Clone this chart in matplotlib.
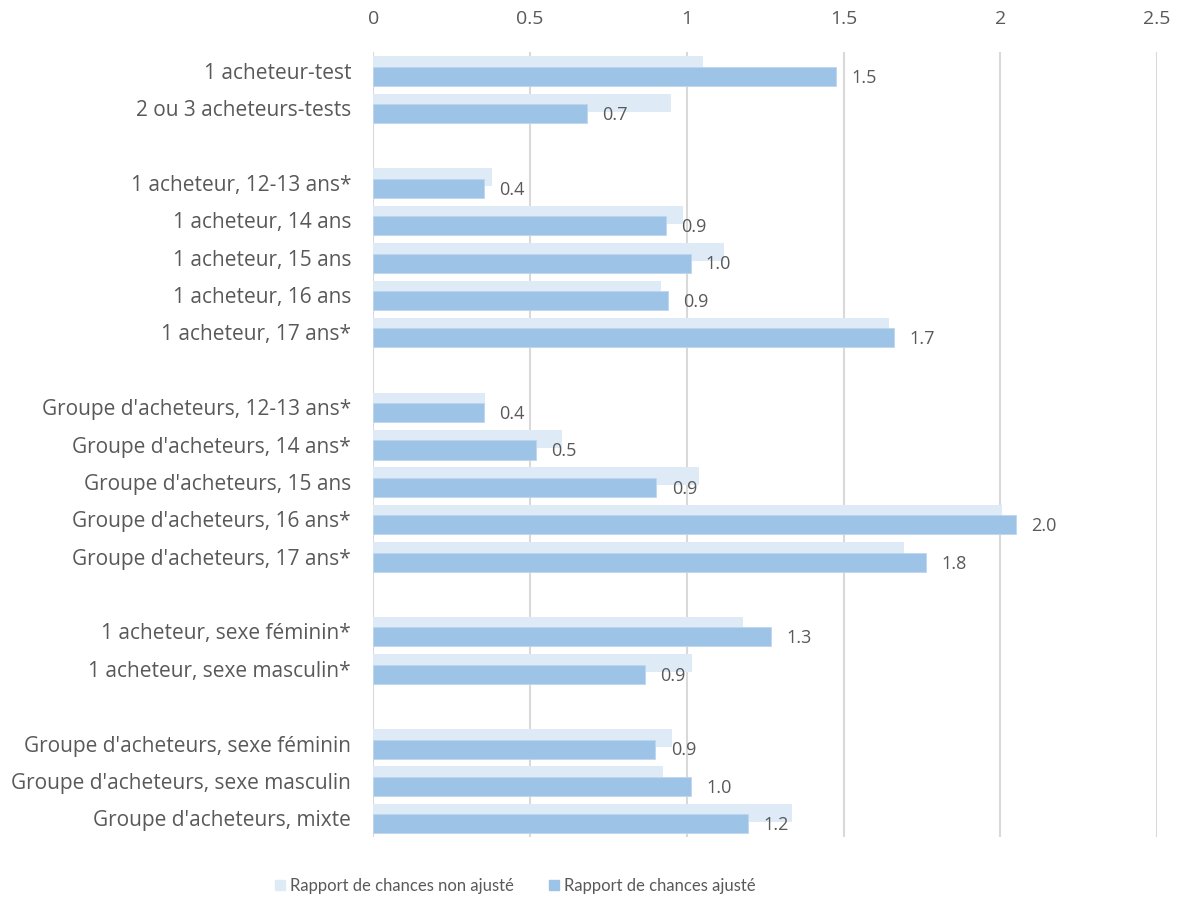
import matplotlib.pyplot as plt
from matplotlib.patches import Patch

plt.rcParams['font.family'] = ['Open Sans', 'DejaVu Sans']

# categories top to bottom; '' marks the blank row between groups
categories = ['1 acheteur-test', '2 ou 3 acheteurs-tests', '',
              '1 acheteur, 12-13 ans*', '1 acheteur, 14 ans', '1 acheteur, 15 ans',
              '1 acheteur, 16 ans', '1 acheteur, 17 ans*', '',
              "Groupe d'acheteurs, 12-13 ans*", "Groupe d'acheteurs, 14 ans*",
              "Groupe d'acheteurs, 15 ans", "Groupe d'acheteurs, 16 ans*",
              "Groupe d'acheteurs, 17 ans*", '',
              '1 acheteur, sexe féminin*', '1 acheteur, sexe masculin*', '',
              "Groupe d'acheteurs, sexe féminin", "Groupe d'acheteurs, sexe masculin",
              "Groupe d'acheteurs, mixte"]

non_ajuste = [1.053, 0.949, None,
              0.379, 0.987, 1.118, 0.917, 1.646, None,
              0.356, 0.601, 1.038, 2.005, 1.693, None,
              1.178, 1.017, None,
              0.953, 0.925, 1.336]

ajuste = [1.476, 0.681, None,
          0.352, 0.934, 1.012, 0.939, 1.661, None,
          0.352, 0.519, 0.903, 2.049, 1.764, None,
          1.270, 0.866, None,
          0.900, 1.014, 1.196]

c_light = '#DEEBF7'
c_dark = '#9DC3E6'
txt = '#595959'

fig = plt.figure(figsize=(11.81, 9.01), dpi=100)
ax = fig.add_axes([0.3161, 0.0710, 0.6636, 0.8713])

for i, (a, b) in enumerate(zip(non_ajuste, ajuste)):
    if a is None:
        continue
    ax.barh(i - 0.147, a, height=0.48, color=c_light, zorder=2)
    ax.barh(i + 0.147, b, height=0.51, color=c_dark, edgecolor='#BDD7EE',
            linewidth=0.6, zorder=3)
    ax.annotate(f'{b:.1f}', xy=(b, i + 0.147), xytext=(11, -1),
                textcoords='offset points', va='center', ha='left',
                fontsize=13, color=txt)

ax.set_xlim(0, 2.5)
ax.set_ylim(len(categories) - 0.5, -0.5)
ax.set_xticks([0, 0.5, 1, 1.5, 2, 2.5])
ax.set_xticklabels(['0', '0.5', '1', '1.5', '2', '2.5'], fontsize=14)
ax.xaxis.tick_top()
ax.set_yticks(range(len(categories)))
ax.set_yticklabels(categories, fontsize=15)
ax.tick_params(axis='both', length=0, colors=txt)
ax.tick_params(axis='y', pad=16)
ax.tick_params(axis='x', pad=17)
ax.grid(axis='x', color='#D9D9D9', linewidth=1.5, zorder=0)
for s in ax.spines.values():
    s.set_visible(False)

handles = [Patch(color=c_light, label='Rapport de chances non ajusté'),
           Patch(color=c_dark, label='Rapport de chances ajusté')]
fig.legend(handles=handles, loc='center', bbox_to_anchor=(0.436, 0.017),
           ncol=2, frameon=False, prop={'family': ['Lato', 'DejaVu Sans'], 'size': 12},
           labelcolor=txt, handlelength=0.6, handleheight=0.6,
           handletextpad=0.3, columnspacing=2.1)

fig.savefig('out.png', dpi=100)
